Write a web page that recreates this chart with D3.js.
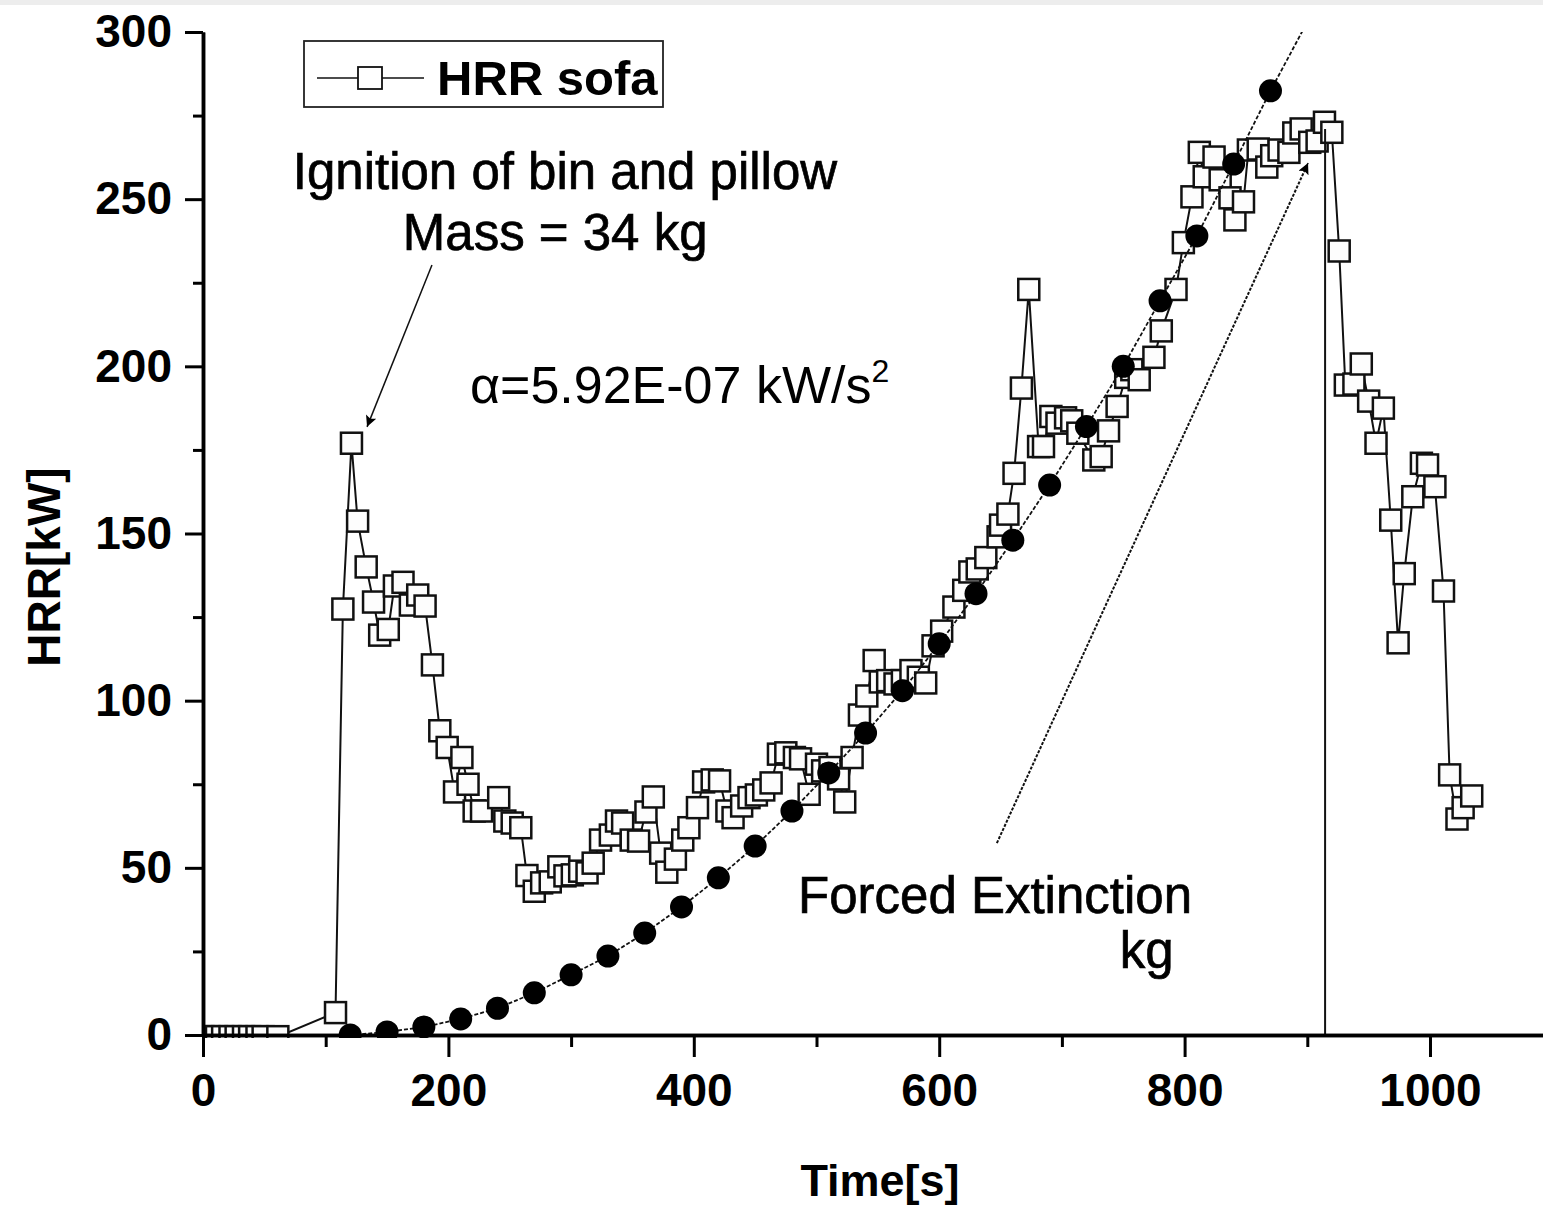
<!DOCTYPE html>
<html>
<head>
<meta charset="utf-8">
<script src="https://cdn.jsdelivr.net/npm/d3@7"></script>
<style>
  html, body { margin: 0; padding: 0; background: #fff; }
  svg { display: block; }
</style>
</head>
<body>
<div id="chart"></div>
<script>
// HRR sofa test, time in s
const sofaTime = [0, 5, 11, 16, 22, 27, 33, 38, 44, 49, 61, 108, 114, 121, 126, 133, 139, 144, 151, 156,
  163, 169, 175, 181, 187, 193, 199, 205, 211, 216, 221, 227, 241, 246, 252, 259, 264, 270, 276, 283,
  290, 295, 301, 307, 313, 318, 324, 332, 337, 342, 349, 355, 361, 367, 373, 378, 385, 391, 396, 403,
  408, 415, 421, 427, 432, 439, 445, 451, 457, 463, 469, 475, 482, 487, 494, 500, 505, 511, 518, 523,
  529, 535, 541, 547, 552, 558, 564, 570, 577, 583, 589, 595, 602, 612, 620, 625, 631, 638, 648, 650,
  656, 661, 667, 673, 681, 685, 691, 696, 703, 708, 713, 726, 732, 738, 745, 752, 757, 763, 775, 781,
  793, 799, 806, 812, 816, 824, 829, 837, 841, 848, 852, 860, 867, 871, 877, 885, 889, 895, 902, 908,
  914, 920, 926, 931, 938, 944, 950, 956, 962, 968, 974, 979, 986, 993, 998, 1004, 1011, 1016, 1022, 1027,
  1034];
// HRR sofa, kW
const sofaHRR = [-0.5, -0.5, -0.5, -0.5, -0.5, -0.5, -0.5, -0.5, -0.5, -0.5, -0.5, 6.7, 127.4, 177, 153.7, 140, 129.5, 119.6, 121.3, 134.3,
  135.4, 128.6, 131.6, 128.3, 110.7, 91, 86, 72.7, 83, 75, 67, 67, 71, 64, 63.4, 62, 47.7, 43, 45.5, 45.8,
  50.3, 47.6, 47.9, 49, 48.5, 51.4, 58.3, 59.8, 64, 63.4, 58.3, 58, 66.7, 71.2, 54.4, 48.7, 52.6, 58.3, 62, 68,
  75.7, 76.3, 76, 67, 65, 68.5, 71, 71.8, 73.3, 75.4, 84, 84.4, 83, 82.6, 72, 81, 79, 80, 76.6, 69.7,
  83, 95.7, 101.4, 112, 105.6, 106, 105, 106, 109, 107, 105.3, 116.4, 120.8, 128, 133, 138.5, 139.4, 142.8, 149, 152.5,
  155.8, 168, 193.5, 223, 176, 176, 185, 183, 184.6, 183.7, 180, 172, 173, 180.7, 188, 196.7, 199, 196, 202.7, 210.6,
  223, 237, 250.7, 264, 256.7, 262.6, 255.8, 250.4, 243.8, 249.2, 264.7, 265, 259.6, 263, 264.7, 264, 269.8, 271, 267, 267.4,
  273, 270, 234.5, 194.4, 194.7, 200.7, 189.6, 177, 187.5, 154, 117.3, 138, 161, 171, 170.5, 164, 132.8, 77.8, 64.6, 68,
  71.5];

// t-squared fit (alpha), time in s and HRR in kW
const fitTime = [120, 150, 180, 210, 240, 270, 300, 330, 360, 390, 420, 450, 480, 510, 540, 570, 600,
  630, 660, 690, 720, 750, 780, 810, 840, 870, 900];
const fitHRR = [0, 0.9, 2.4, 4.8, 8, 12.6, 18, 23.6, 30.5, 38.3, 47, 56.5, 67, 78.4, 90.3, 103, 117,
  132, 148, 164.5, 182, 200, 219.6, 239, 260.5, 282.4, 303];

// axis ticks
const xTicks = [0, 200, 400, 600, 800, 1000];
const xMinorTicks = [100, 300, 500, 700, 900, 1100];
const yTicks = [0, 50, 100, 150, 200, 250, 300];
const yMinorTicks = [25, 75, 125, 175, 225, 275];

// ============================================================================
// SETUP
// ============================================================================
const W = 1543, H = 1205;
const margin = { top: 32, right: 0, bottom: 170, left: 203 };
const font = "'Liberation Sans', Arial, sans-serif";

const svg = d3.select('#chart')
    .append('svg')
    .attr('width', W)
    .attr('height', H);

svg.append('rect').attr('width', W).attr('height', H).attr('fill', '#fff');
svg.append('rect').attr('width', W).attr('height', 5).attr('fill', '#ededed');

// ============================================================================
// SCALES
// ============================================================================
const x = d3.scaleLinear()
    .domain([0, 1100])
    .range([margin.left, margin.left + 1100 * 1.227]);

const y = d3.scaleLinear()
    .domain([0, 300])
    .range([1035, margin.top]);

const defs = svg.append('defs');
defs.append('clipPath').attr('id', 'plot-clip')
    .append('rect')
    .attr('x', x(0))
    .attr('y', y(300))
    .attr('width', W - x(0))
    .attr('height', y(0) - y(300) + 3);

defs.append('marker')
    .attr('id', 'arrow')
    .attr('viewBox', '0 0 10 10')
    .attr('refX', 10).attr('refY', 5)
    .attr('markerWidth', 26).attr('markerHeight', 11)
    .attr('markerUnits', 'userSpaceOnUse')
    .attr('orient', 'auto')
    .append('path')
    .attr('d', 'M0,0 L10,5 L0,10 L2,5 Z')
    .attr('fill', '#000');

// ============================================================================
// DATA SERIES
// ============================================================================
const sofa = sofaTime.map((t, i) => ({ t: t, v: sofaHRR[i] }));
const fit = fitTime.map((t, i) => ({ t: t, v: fitHRR[i] }));

const plot = svg.append('g').attr('clip-path', 'url(#plot-clip)');

const line = d3.line().x(d => x(d.t)).y(d => y(d.v));

plot.append('path')
    .datum(sofa)
    .attr('d', line)
    .attr('fill', 'none')
    .attr('stroke', '#111')
    .attr('stroke-width', 2);

const sq = 21;
plot.selectAll('.sofa-pt')
    .data(sofa)
    .enter()
    .append('rect')
    .attr('class', 'sofa-pt')
    .attr('x', d => x(d.t) - sq / 2)
    .attr('y', d => y(d.v) - sq / 2)
    .attr('width', sq)
    .attr('height', sq)
    .attr('fill', '#fdfdfd')
    .attr('stroke', '#111')
    .attr('stroke-width', 2.5);

// forced extinction drop
plot.append('line')
    .attr('x1', x(914.5)).attr('x2', x(914.5))
    .attr('y1', y(271)).attr('y2', y(0))
    .attr('stroke', '#111')
    .attr('stroke-width', 2);

plot.append('path')
    .datum(fit)
    .attr('d', line)
    .attr('fill', 'none')
    .attr('stroke', '#111')
    .attr('stroke-width', 1.8)
    .attr('stroke-dasharray', '4,2');

plot.selectAll('.fit-pt')
    .data(fit.filter(d => d.v <= 300))
    .enter()
    .append('circle')
    .attr('class', 'fit-pt')
    .attr('cx', d => x(d.t))
    .attr('cy', d => y(d.v))
    .attr('r', 11.5)
    .attr('fill', '#000');

// ============================================================================
// AXES
// ============================================================================
svg.append('g')
    .attr('transform', `translate(${x(0)},0)`)
    .call(d3.axisLeft(y).tickValues(yTicks).tickSize(18).tickSizeOuter(0).tickPadding(13));
svg.append('g')
    .attr('transform', `translate(${x(0)},0)`)
    .call(d3.axisLeft(y).tickValues(yMinorTicks).tickSize(10).tickSizeOuter(0).tickFormat(''));

svg.append('g')
    .attr('transform', `translate(0,${y(0)})`)
    .call(d3.axisBottom(x).tickValues(xTicks).tickSize(22).tickSizeOuter(0).tickPadding(16)
        .tickFormat(d3.format('d')));
svg.append('g')
    .attr('transform', `translate(0,${y(0)})`)
    .call(d3.axisBottom(x).tickValues(xMinorTicks).tickSize(12).tickSizeOuter(0).tickFormat(''));

svg.selectAll('.domain').attr('stroke', '#000').attr('stroke-width', 3.5);
svg.selectAll('.tick line').attr('stroke', '#000').attr('stroke-width', 3);
svg.selectAll('.tick text')
    .style('font-family', font)
    .style('font-weight', 'bold')
    .style('font-size', '46px')
    .attr('fill', '#000');

// axis titles
svg.append('text')
    .attr('x', 880)
    .attr('y', 1196)
    .attr('text-anchor', 'middle')
    .style('font-family', font)
    .style('font-weight', 'bold')
    .style('font-size', '45px')
    .text('Time[s]');

svg.append('text')
    .attr('transform', 'translate(60,567) rotate(-90)')
    .attr('text-anchor', 'middle')
    .style('font-family', font)
    .style('font-weight', 'bold')
    .style('font-size', '46px')
    .text('HRR[kW]');

// ============================================================================
// ANNOTATIONS
// ============================================================================
const note = (t, v, str) => svg.append('text')
    .attr('x', x(t))
    .attr('y', y(v))
    .attr('text-anchor', 'middle')
    .style('font-family', font)
    .style('font-size', '51px')
    .attr('stroke', '#000')
    .attr('stroke-width', 0.7)
    .text(str);

note(295, 253, 'Ignition of bin and pillow');
note(287, 234.8, 'Mass = 34 kg');
note(645.5, 36.5, 'Forced Extinction');
note(769, 20, 'kg');

const alpha = svg.append('text')
    .attr('x', x(217.6))
    .attr('y', y(189))
    .style('font-family', font)
    .style('font-size', '52px');
alpha.append('tspan').text('α=5.92E-07 kW/s');
alpha.append('tspan').attr('dy', -21).style('font-size', '32px').text('2');

svg.append('line')
    .attr('x1', x(186.6)).attr('y1', y(230.3))
    .attr('x2', x(133.7)).attr('y2', y(181.9))
    .attr('stroke', '#111')
    .attr('stroke-width', 1.5)
    .attr('marker-end', 'url(#arrow)');

svg.append('line')
    .attr('x1', x(647)).attr('y1', y(57.4))
    .attr('x2', x(900.6)).attr('y2', y(260.8))
    .attr('stroke', '#111')
    .attr('stroke-width', 2)
    .attr('stroke-dasharray', '3,1.5')
    .attr('marker-end', 'url(#arrow)');

// ============================================================================
// LEGEND
// ============================================================================
const legend = svg.append('g');
legend.append('rect')
    .attr('x', 304).attr('y', 41)
    .attr('width', 359).attr('height', 66)
    .attr('fill', '#fff')
    .attr('stroke', '#222')
    .attr('stroke-width', 1.8);
legend.append('line')
    .attr('x1', 317).attr('x2', 424)
    .attr('y1', 78).attr('y2', 78)
    .attr('stroke', '#111').attr('stroke-width', 1.5);
legend.append('rect')
    .attr('x', 358).attr('y', 67)
    .attr('width', 24).attr('height', 22)
    .attr('fill', '#fff')
    .attr('stroke', '#111').attr('stroke-width', 1.8);
legend.append('text')
    .attr('x', 437).attr('y', 95)
    .style('font-family', font)
    .style('font-weight', 'bold')
    .style('font-size', '49px')
    .text('HRR sofa');
</script>
</body>
</html>
